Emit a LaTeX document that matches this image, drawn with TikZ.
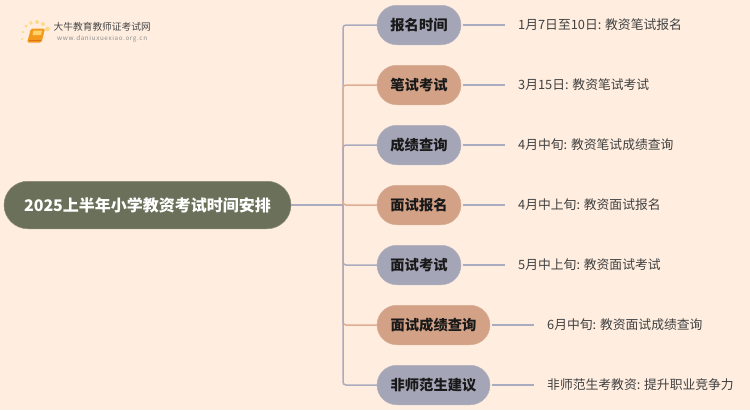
\documentclass[tikz,border=0pt]{standalone}
\usepackage{fontspec}
\setmainfont{Noto Sans CJK SC}
\usetikzlibrary{calc}
\definecolor{bgc}{HTML}{FFEEE0}
\definecolor{lav}{HTML}{A5A5B8}
\definecolor{sal}{HTML}{D2A186}
\definecolor{lavl}{HTML}{ABABC0}
\definecolor{sall}{HTML}{DDAE93}
\definecolor{rootc}{HTML}{6A7059}
\definecolor{txtc}{HTML}{404040}
\definecolor{dotc}{HTML}{FFD98A}
\definecolor{bookc}{HTML}{F39A1E}
\definecolor{pagec}{HTML}{FFD36B}
\definecolor{spinec}{HTML}{D9701A}
\tikzset{
 x=1pt,y=-1pt,
 rootbox/.style={rounded corners=23.9pt,fill=rootc,draw=rootc!80!bgc,line width=.5pt,minimum width=287pt,minimum height=47.5pt,text=white,font=\fontsize{16}{18}\selectfont\bfseries,inner sep=0pt},
 lavbox/.style={rounded corners=19.8pt,fill=lav,draw=lav!85!bgc,line width=.5pt,minimum height=39.5pt,inner sep=0pt,font=\fontsize{14.3}{16}\selectfont\bfseries,text=black!90},
 salbox/.style={lavbox,fill=sal,draw=sal!85!bgc},
 shortbox/.style={minimum width=84pt},
 longbox/.style={minimum width=113pt},
 leaf/.style={anchor=west,inner sep=0pt,text=txtc,font=\fontsize{12.8}{16}\selectfont},
 edge/.style={line width=1.5pt,rounded corners=3pt},
 tail/.style={line width=1.2pt,draw=lavl,shorten >=13pt,shorten <=1.5pt},
}
\begin{document}
\begin{tikzpicture}
\useasboundingbox (0,0) rectangle (750,410);
\fill[bgc] (0,0) rectangle (750,410);
% logo
\fill[dotc] (22,39) circle (1.1) (23,32) circle (1.3) (26,26) circle (1.6) (31,23) circle (1.8) (37,22) circle (2) (43,24) circle (2) (47.5,29) circle (2.4);
\fill[bookc,rounded corners=1.4pt] (31,28.5) -- (45,28.5) -- (41.5,42.5) -- (27,42.5) -- cycle;
\fill[pagec,rounded corners=.6pt] (33.5,30.5) -- (42,30.5) -- (41,35) -- (32.5,35) -- cycle;
\draw[spinec,line width=.8pt] (29,40.5) -- (40.5,40.5);
\node[anchor=west,inner sep=0pt,text=black!72,font=\fontsize{9.7}{12}\selectfont] (brand) at (53.5,26.5) {大牛教育教师证考试网};
\node[anchor=west,inner sep=0pt,text=black!45,font=\fontsize{6.3}{8}\selectfont] (site) at (57,39) {\addfontfeature{LetterSpace=10}www.daniuxuexiao.org.cn};
% nodes
\node[rootbox] (root) at (147.5,205) {2025上半年小学教资考试时间安排};
\coordinate (hub) at (343,205);
\node[lavbox,shortbox] (a) at (419,25) {报名时间};
\node[salbox,shortbox] (b) at (419,85) {笔试考试};
\node[lavbox,shortbox] (c) at (419,145) {成绩查询};
\node[salbox,shortbox] (d) at (419,205) {面试报名};
\node[lavbox,shortbox] (e) at (419,265) {面试考试};
\node[salbox,longbox] (f) at (433.5,325) {面试成绩查询};
\node[lavbox,longbox] (g) at (433.5,385) {非师范生建议};
\node[leaf] (la) at (518,25) {1月7日至10日: 教资笔试报名};
\node[leaf] (lb) at (518,85) {3月15日: 教资笔试考试};
\node[leaf] (lc) at (518,145) {4月中旬: 教资笔试成绩查询};
\node[leaf] (ld) at (518,205) {4月中上旬: 教资面试报名};
\node[leaf] (le) at (518,265) {5月中上旬: 教资面试考试};
\node[leaf] (lf) at (547,325) {6月中旬: 教资面试成绩查询};
\node[leaf] (lg) at (547,385) {非师范生考教资: 提升职业竞争力};
% connectors
\draw[line width=1.3pt,draw=lavl] (root.east) -- (hub);
\foreach \n/\c in {a/lavl,b/sall,c/lavl,d/sall,e/lavl,f/sall,g/lavl}{
  \draw[edge,draw=\c] (hub) -- (hub |- \n.west) -- (\n.west);
}
\foreach \n/\l in {a/la,b/lb,c/lc,d/ld,e/le,f/lf,g/lg}{
  \draw[tail] (\n.east) -- (\l.west);
}
\end{tikzpicture}
\end{document}
